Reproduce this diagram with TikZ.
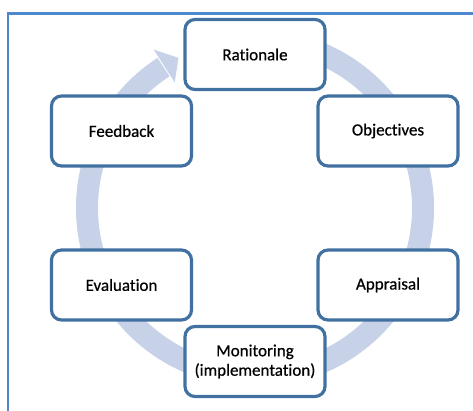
\documentclass[tikz,border=0pt]{standalone}
\usepackage{fontspec}
\setmainfont[Ligatures=NoCommon,FakeBold=0.6]{Carlito}
\begin{document}
\begin{tikzpicture}[x=1pt,y=1pt,
  stagebox/.style={draw={rgb,255:red,65;green,113;blue,160}, line width=3.2pt, fill=white,
    rounded corners=10pt, minimum width=140pt, minimum height=70pt, align=center,
    font=\fontsize{17}{19.5}\selectfont, inner sep=2pt},
  ringcol/.style={color={rgb,255:red,199;green,210;blue,232}}]
\useasboundingbox (0,0) rectangle (473,410);
% frame
\draw[draw={rgb,255:red,77;green,135;blue,208}, line width=2.5pt]
  (480,396.7) -- (8.2,396.7) -- (8.2,-10);
% circular arrow
\coordinate (c) at (255,202);
\draw[ringcol, line width=22pt] ([shift={(105:168)}]c) arc[start angle=105, end angle=-237, radius=168];
\fill[ringcol] ([shift={(122.6:188)}]c) -- ([shift={(117.0:168.5)}]c) -- ([shift={(122.6:149)}]c) -- cycle;
% boxes
\node[stagebox] (rat) at (255,355.5) {Rationale};
\node[stagebox] (obj) at (388,279) {Objectives};
\node[stagebox] (app) at (388,125) {Appraisal};
\node[stagebox] (mon) at (255,48.5) {Monitoring\\(implementation)};
\node[stagebox] (eva) at (121.5,125) {Evaluation};
\node[stagebox] (fee) at (121.5,279) {Feedback};
\end{tikzpicture}
\end{document}
